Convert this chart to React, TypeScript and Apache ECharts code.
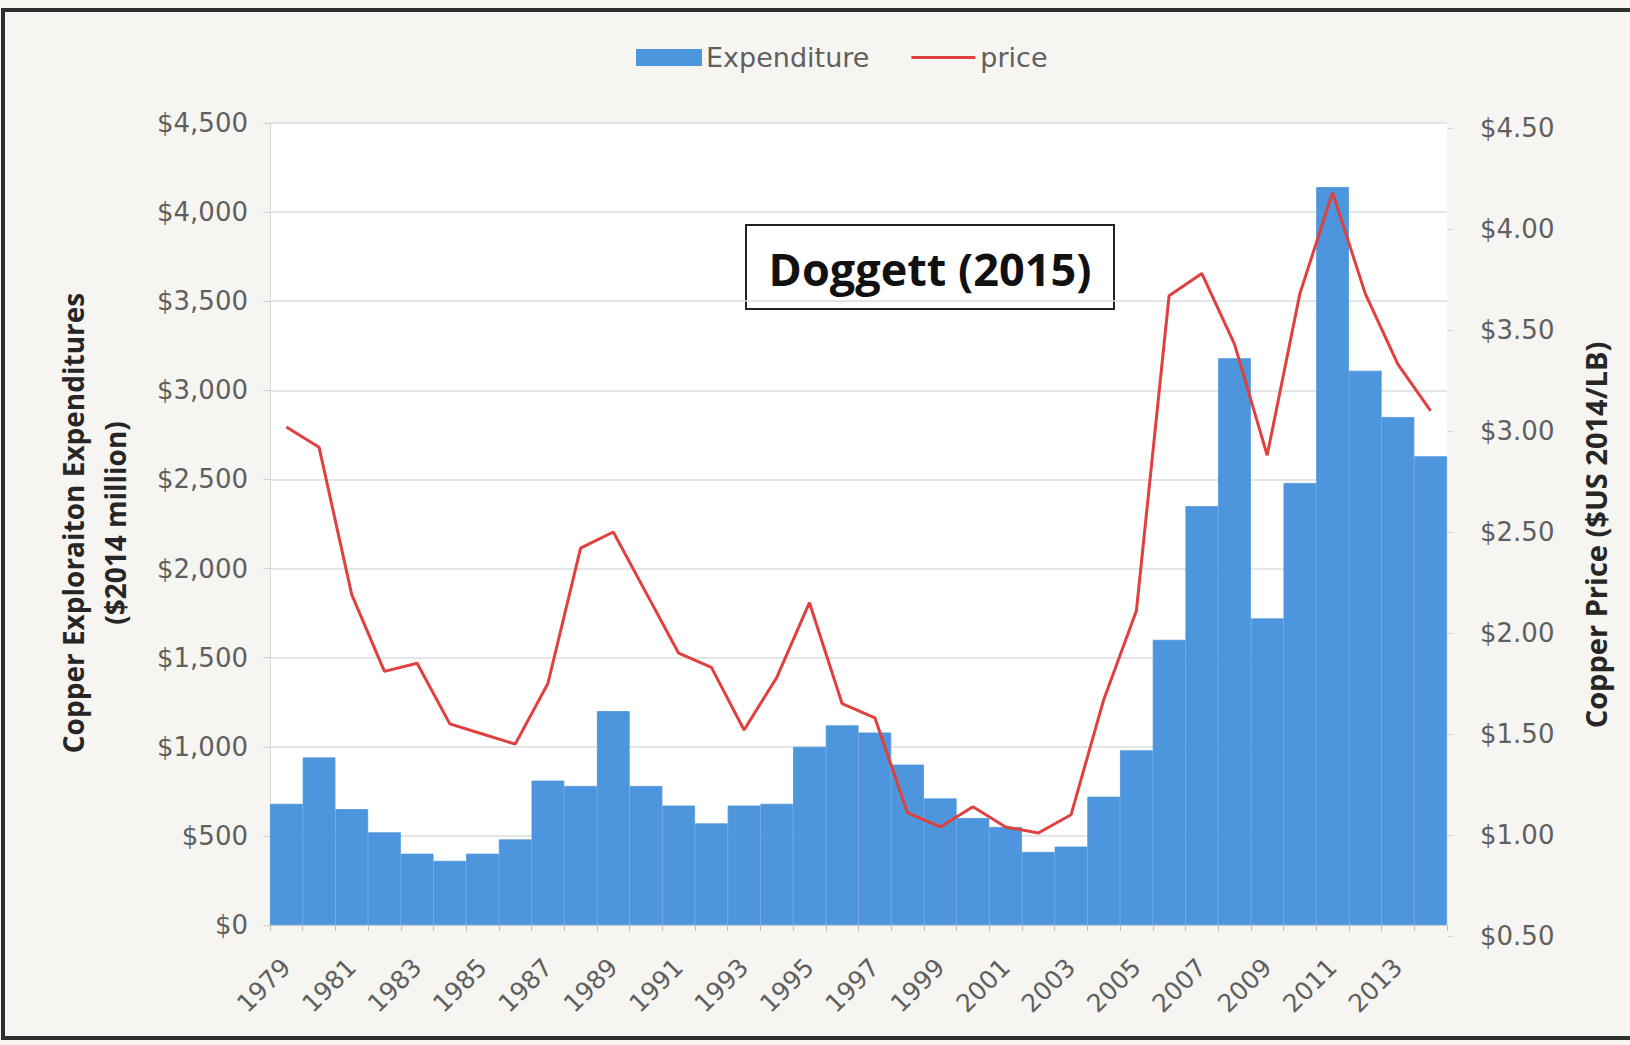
import React, { useEffect, useRef } from "react";
import * as echarts from "echarts";

const years = [
  "1979", "1980", "1981", "1982", "1983", "1984", "1985", "1986", "1987", "1988",
  "1989", "1990", "1991", "1992", "1993", "1994", "1995", "1996", "1997", "1998",
  "1999", "2000", "2001", "2002", "2003", "2004", "2005", "2006", "2007", "2008",
  "2009", "2010", "2011", "2012", "2013", "2014",
];

const expenditure = [
  680, 940, 650, 520, 400, 360, 400, 480, 810, 780,
  1200, 780, 670, 570, 670, 680, 1000, 1120, 1080, 900,
  710, 600, 550, 410, 440, 720, 980, 1600, 2350, 3180,
  1720, 2480, 4140, 3110, 2850, 2630,
];

const price = [
  3.02, 2.92, 2.19, 1.81, 1.85, 1.55, 1.5, 1.45, 1.75, 2.42,
  2.5, 2.2, 1.9, 1.83, 1.52, 1.78, 2.15, 1.65, 1.58, 1.11,
  1.04, 1.14, 1.04, 1.01, 1.1, 1.67, 2.11, 3.67, 3.78, 3.43,
  2.88, 3.68, 4.18, 3.68, 3.33, 3.1,
];

const seriesNames = ["Expenditure", "price"];
const leftAxisTitle = "Copper Exploraiton Expenditures\n($2014 million)";
const rightAxisTitle = "Copper Price ($US 2014/LB)";
const annotation = "Doggett (2015)";

const FONT = '"DejaVu Sans"';
const TITLE_FONT = '"Open Sans"';
const BAR_COLOR = "#4d95dc";
const LINE_COLOR = "#e0403e";

export default function App() {
  const ref = useRef<HTMLDivElement>(null);

  useEffect(() => {
    if (!ref.current) return;
    const chart = echarts.init(ref.current, null, { renderer: "svg" });
    const option = {
      animation: false,
      backgroundColor: "#f6f5f1",
      legend: {
        left: 631,
        top: 39,
        itemWidth: 64,
        itemHeight: 15,
        itemGap: 42,
        textStyle: { fontFamily: FONT, fontSize: 27, color: "#5f5f5f" },
        data: [
          { name: seriesNames[0], icon: "rect" },
          { name: seriesNames[1], icon: "path://M0 0H64V3H0Z" },
        ],
      },
      grid: [
        {
          left: 270,
          right: 183,
          top: 123,
          bottom: 120,
          show: true,
          backgroundColor: "#ffffff",
          borderWidth: 0,
        },
        {
          left: 270,
          right: 183,
          top: 128,
          bottom: 109,
          show: false,
        },
      ],
      xAxis: [
        {
          type: "category",
          gridIndex: 0,
          data: years,
          boundaryGap: true,
          axisLine: { show: true, lineStyle: { color: "#cfcfcf", width: 1 } },
          axisTick: {
            show: true,
            interval: 0,
            length: 6,
            lineStyle: { color: "#bdbdbd" },
          },
          axisLabel: {
            interval: 1,
            rotate: 45,
            margin: 38,
            fontFamily: FONT,
            fontSize: 25,
            color: "#5f5f5f",
          },
        },
        {
          type: "category",
          gridIndex: 1,
          data: years,
          boundaryGap: true,
          show: false,
        },
      ],
      yAxis: [
        {
          type: "value",
          gridIndex: 0,
          min: 0,
          max: 4500,
          interval: 500,
          axisLine: { show: true, lineStyle: { color: "#d6d6d6" } },
          axisTick: { show: true, length: 7, lineStyle: { color: "#d0d0d0" } },
          splitLine: { show: true, lineStyle: { color: "#dcdcdc", width: 1.5 } },
          axisLabel: {
            margin: 22,
            fontFamily: FONT,
            fontSize: 26,
            color: "#5f5f5f",
            formatter: (v: number) => "$" + v.toLocaleString("en-US"),
          },
        },
        {
          type: "value",
          gridIndex: 1,
          min: 0.5,
          max: 4.5,
          interval: 0.5,
          position: "right",
          axisLine: { show: false },
          axisTick: { show: true, length: 6, lineStyle: { color: "#d6d6d6" } },
          splitLine: { show: false },
          axisLabel: {
            margin: 33,
            fontFamily: FONT,
            fontSize: 26,
            color: "#5f5f5f",
            formatter: (v: number) => "$" + v.toFixed(2),
          },
        },
      ],
      series: [
        {
          name: seriesNames[0],
          type: "bar",
          data: expenditure,
          xAxisIndex: 0,
          yAxisIndex: 0,
          barCategoryGap: "0%",
          itemStyle: { color: BAR_COLOR, borderColor: BAR_COLOR, borderWidth: 0.8 },
        },
        {
          name: seriesNames[1],
          type: "line",
          data: price,
          xAxisIndex: 1,
          yAxisIndex: 1,
          symbol: "none",
          lineStyle: { color: LINE_COLOR, width: 3 },
          itemStyle: { color: LINE_COLOR },
        },
      ],
      graphic: [
        {
          type: "rect",
          shape: { x: 3, y: 10, width: 1670, height: 1028 },
          style: { fill: "none", stroke: "#2e2e2e", lineWidth: 4 },
          silent: true,
          z: 100,
        },
        {
          type: "group",
          z: 100,
          children: [
            {
              type: "rect",
              shape: { x: 746, y: 225, width: 368, height: 84 },
              style: { fill: "#ffffff", stroke: "#222222", lineWidth: 2 },
            },
            {
              type: "text",
              x: 930,
              y: 268,
              style: {
                text: annotation,
                font: `bold 45px ${TITLE_FONT}`,
                fill: "#111111",
                textAlign: "center",
                textVerticalAlign: "middle",
              },
            },
          ],
        },
        {
          type: "text",
          x: 94,
          y: 523,
          rotation: Math.PI / 2,
          style: {
            text: leftAxisTitle,
            font: `bold 28px ${TITLE_FONT}`,
            fill: "#262626",
            textAlign: "center",
            textVerticalAlign: "middle",
            lineHeight: 42,
          },
        },
        {
          type: "text",
          x: 1595,
          y: 535,
          rotation: Math.PI / 2,
          style: {
            text: rightAxisTitle,
            font: `bold 29px ${TITLE_FONT}`,
            fill: "#262626",
            textAlign: "center",
            textVerticalAlign: "middle",
          },
        },
      ],
    };
    chart.setOption(option);
    return () => chart.dispose();
  }, []);

  return (
    <div
      ref={ref}
      style={{
        position: "fixed",
        left: 0,
        top: 0,
        width: 1630,
        height: 1045,
      }}
    />
  );
}
